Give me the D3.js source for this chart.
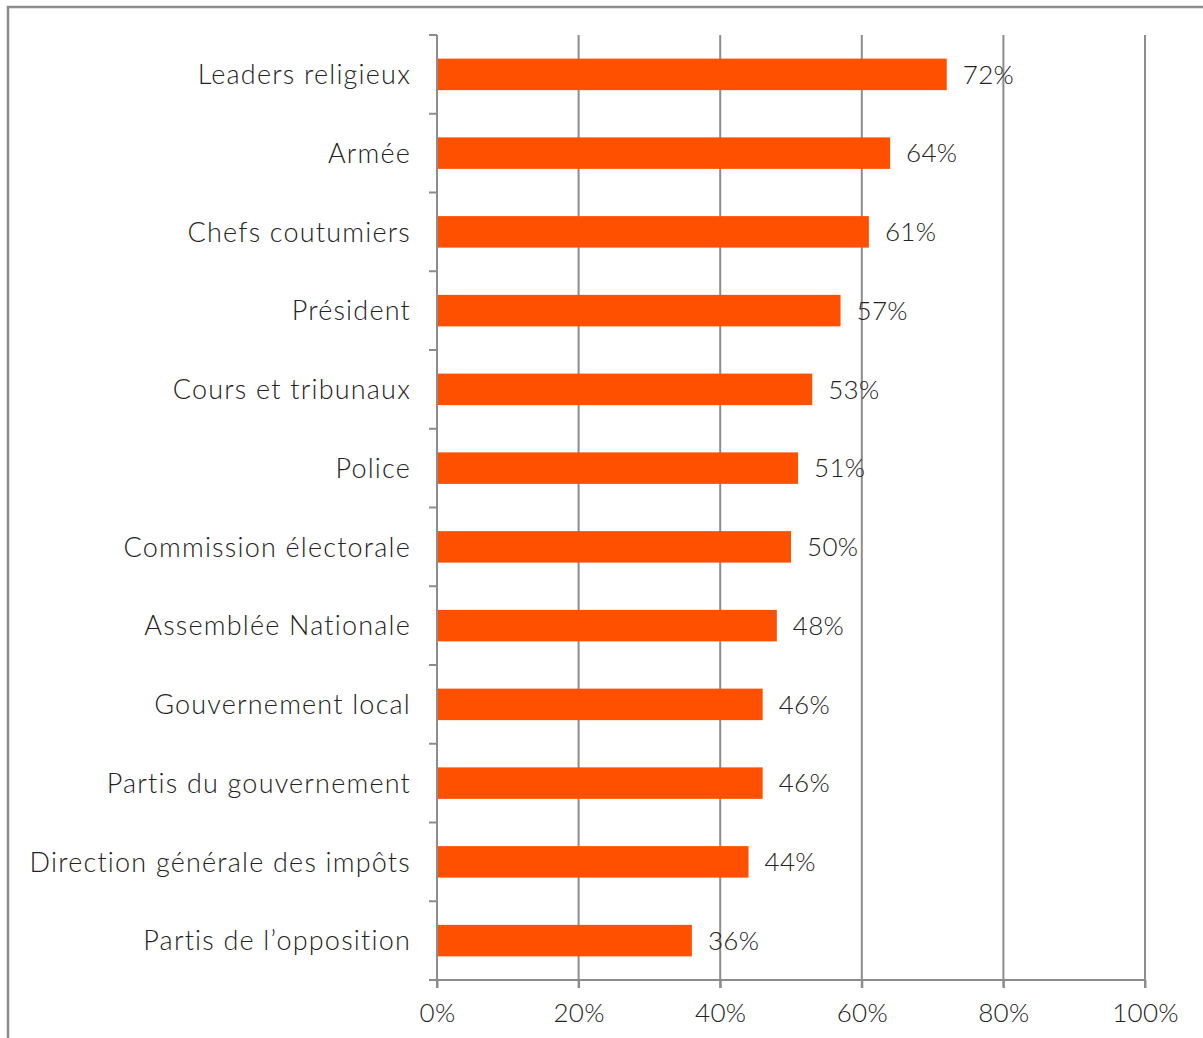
<!DOCTYPE html>
<html>
<head>
<meta charset="utf-8">
<script src="https://cdn.jsdelivr.net/npm/d3@7"></script>
<style>
  html, body { margin: 0; padding: 0; background: #fff; }
  svg { display: block; }
</style>
</head>
<body>
<div id="chart"></div>
<script>
const categories = [
  'Leaders religieux', 'Armée', 'Chefs coutumiers', 'Président',
  'Cours et tribunaux', 'Police', 'Commission électorale', 'Assemblée Nationale',
  'Gouvernement local', 'Partis du gouvernement', 'Direction générale des impôts',
  'Partis de l\u2019opposition'
]
const values = [72, 64, 61, 57, 53, 51, 50, 48, 46, 46, 44, 36]
const xTicks = [0, 20, 40, 60, 80, 100]

const width = 1203
const height = 1038
const margin = {top: 35, right: 58, bottom: 58, left: 437}
const FONT = "'Lato', 'DejaVu Sans', sans-serif"
const GRID = '#8c8c8c'
const BAR = '#ff5000'
const TEXT = '#222222'

const svg = d3.select('#chart').append('svg')
  .attr('width', width).attr('height', height)

// chart frame
svg.append('path')
  .attr('d', `M8,${height} V7 H${width}`)
  .attr('fill', 'none').attr('stroke', GRID).attr('stroke-width', 2.5)

const x = d3.scaleLinear().domain([0, 100]).range([margin.left, width - margin.right])
const y = d3.scaleBand().domain(categories).range([margin.top, height - margin.bottom])
  .paddingInner(0.6).paddingOuter(0.3)

const plotBottom = height - margin.bottom

// vertical gridlines
svg.append('g').selectAll('line').data(xTicks.slice(1)).enter().append('line')
  .attr('x1', d => x(d)).attr('x2', d => x(d))
  .attr('y1', margin.top).attr('y2', plotBottom + 8)
  .attr('stroke', GRID).attr('stroke-width', 2)

// bars
svg.append('g').selectAll('rect').data(values).enter().append('rect')
  .attr('x', x(0))
  .attr('y', (d, i) => y(categories[i]))
  .attr('width', d => x(d) - x(0))
  .attr('height', y.bandwidth())
  .attr('fill', BAR)

// value labels
svg.append('g').selectAll('text').data(values).enter().append('text')
  .attr('x', d => x(d) + 16)
  .attr('y', (d, i) => y(categories[i]) + y.bandwidth() / 2)
  .attr('dy', '0.36em')
  .attr('font-family', FONT).attr('font-weight', 300).attr('font-size', 26)
  .attr('letter-spacing', 0.3).attr('fill', TEXT)
  .text(d => d + '%')

// x axis
const xAxis = svg.append('g')
  .attr('transform', `translate(0,${plotBottom})`)
  .call(d3.axisBottom(x).tickValues(xTicks).tickFormat(d => d + '%').tickSize(8).tickSizeOuter(0))
xAxis.select('.domain').attr('stroke', GRID).attr('stroke-width', 2)
  .attr('d', `M${x(0) - 8},0H${x(100)}`)
xAxis.selectAll('.tick line').attr('stroke', GRID).attr('stroke-width', 2)
xAxis.selectAll('.tick text')
  .attr('y', 24).attr('dy', '0.71em')
  .attr('font-family', FONT).attr('font-weight', 300).attr('font-size', 26)
  .attr('letter-spacing', 0.3).attr('fill', TEXT)

// y axis: boundaries between bands get ticks
const step = (plotBottom - margin.top) / categories.length
const bounds = d3.range(categories.length + 1).map(i => margin.top + i * step)
svg.append('line')
  .attr('x1', x(0)).attr('x2', x(0))
  .attr('y1', margin.top).attr('y2', plotBottom + 8)
  .attr('stroke', GRID).attr('stroke-width', 2)
svg.append('g').selectAll('line').data(bounds.slice(0, -1)).enter().append('line')
  .attr('x1', x(0) - 8).attr('x2', x(0))
  .attr('y1', d => d).attr('y2', d => d)
  .attr('stroke', GRID).attr('stroke-width', 2)

// category labels
svg.append('g').selectAll('text').data(categories).enter().append('text')
  .attr('x', x(0) - 26)
  .attr('y', d => y(d) + y.bandwidth() / 2)
  .attr('dy', '0.36em')
  .attr('text-anchor', 'end')
  .attr('font-family', FONT).attr('font-weight', 300).attr('font-size', 27)
  .attr('letter-spacing', 1.2).attr('fill', TEXT)
  .text(d => d)
</script>
</body>
</html>
